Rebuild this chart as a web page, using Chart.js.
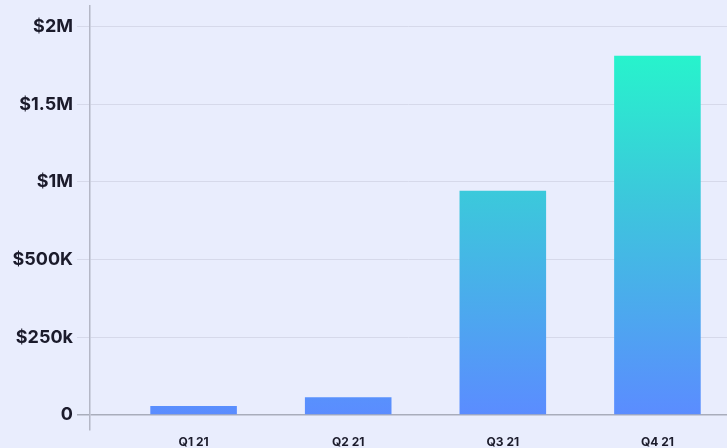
<!DOCTYPE html>
<html>
<head>
<meta charset="utf-8">
<script src="https://cdn.jsdelivr.net/npm/chart.js@4"></script>
<style>
  html, body { margin: 0; padding: 0; background: #e9edfd; overflow: hidden; }
  #wrap { width: 727px; height: 448px; position: relative; }
</style>
</head>
<body>
<div id="wrap"><canvas id="revenueChart"></canvas></div>
<script>
// quarters and revenue in dollars
const quarters = ["Q1 21", "Q2 21", "Q3 21", "Q4 21"];
const revenue = [29000, 57000, 943000, 1812000];

// y axis is evenly spaced but not linear in dollars
const tickValues = [0, 250000, 500000, 1000000, 1500000, 2000000];
const tickLabels = ["0", "$250k", "$500K", "$1M", "$1.5M", "$2M"];

// dollars -> position on the evenly spaced tick axis
function toAxis(v) {
    for (let i = 1; i < tickValues.length; i++) {
        if (v <= tickValues[i]) {
            const lo = tickValues[i - 1], hi = tickValues[i];
            return i - 1 + (v - lo) / (hi - lo);
        }
    }
    return tickValues.length - 1;
}

const points = quarters.map((q, i) => ({ x: i, y: toAxis(revenue[i]) }));

function barGradient(context) {
    const chart = context.chart;
    const area = chart.chartArea;
    if (!area) return "#5b8cff";
    const y = chart.scales.y;
    const bottom = y.getPixelForValue(0);
    const top = y.getPixelForValue(toAxis(1812000));
    const g = chart.ctx.createLinearGradient(0, bottom, 0, top);
    g.addColorStop(0, "#5b8cff");
    g.addColorStop(0.6, "#3cc7dc");
    g.addColorStop(1, "#27f3cc");
    return g;
}

const ctx = document.getElementById("revenueChart").getContext("2d");
new Chart(ctx, {
    type: "bar",
    data: {
        datasets: [{
            data: points,
            backgroundColor: barGradient,
            borderWidth: 0,
            barPercentage: 0.56,
            categoryPercentage: 1
        }]
    },
    options: {
        responsive: true,
        maintainAspectRatio: false,
        animation: false,
        layout: { padding: { top: 6, right: 0, left: 0, bottom: 0 } },
        plugins: {
            legend: { display: false },
            tooltip: { enabled: false }
        },
        scales: {
            x: {
                type: "linear",
                offset: false,
                min: -0.67,
                max: 3.45,
                afterBuildTicks: (scale) => {
                    scale.ticks = quarters.map((_, i) => ({ value: i }));
                },
                afterFit: (scale) => {
                    scale.height = 18;
                    scale.paddingLeft = 0;
                    scale.paddingRight = 0;
                },
                grid: { display: false, drawTicks: false },
                border: { display: false },
                ticks: {
                    padding: 5,
                    maxRotation: 0,
                    autoSkip: false,
                    color: "#1b1b2b",
                    font: { family: "Inter", size: 12, weight: "bold" },
                    callback: (v) => quarters[v]
                }
            },
            y: {
                min: -0.193,
                max: 5.266,
                afterBuildTicks: (scale) => {
                    scale.ticks = tickLabels.map((_, i) => ({ value: i }));
                },
                afterFit: (scale) => {
                    scale.width = 90;
                    scale.paddingTop = 0;
                    scale.paddingBottom = 0;
                },
                grid: {
                    color: (c) => c.tick && c.tick.value === 0 ? "#a9adbb" : "#d6d9ea",
                    lineWidth: (c) => c.tick && c.tick.value === 0 ? 1.5 : 1,
                    tickLength: 13
                },
                border: { display: true, color: "#b4b7c6", width: 1.5 },
                ticks: {
                    padding: 4,
                    color: "#1b1b2b",
                    font: { family: "Inter", size: 18, weight: "bold" },
                    callback: (v) => tickLabels[v]
                }
            }
        }
    }
});
</script>
</body>
</html>
